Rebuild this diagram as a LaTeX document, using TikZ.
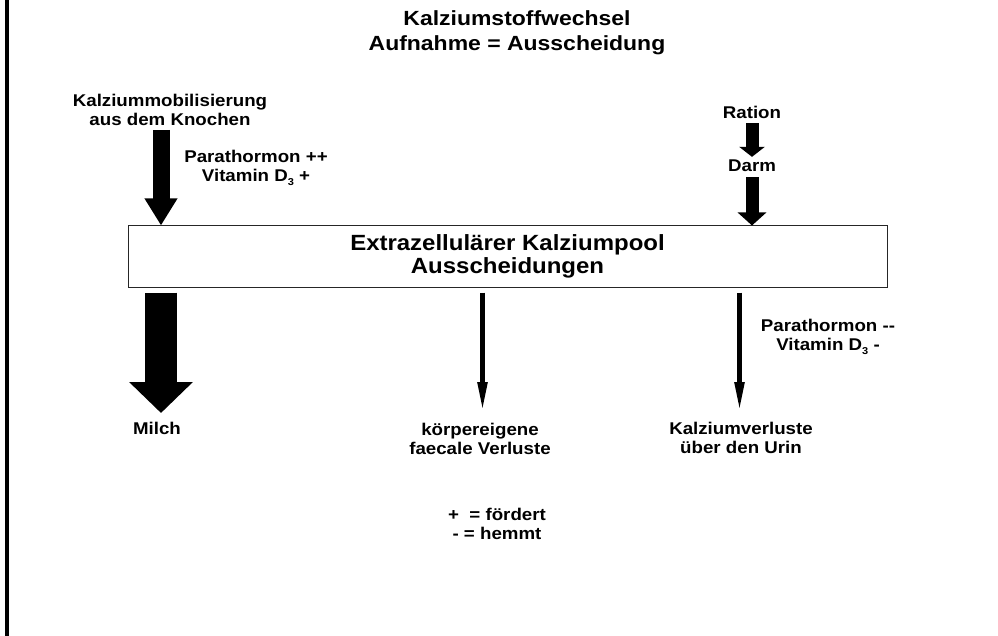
\documentclass[tikz,border=0pt]{standalone}
\usepackage{fontspec}
\setmainfont{Liberation Sans}
\usepackage{graphicx}
\usetikzlibrary{arrows.meta}
\newcommand{\sx}[1]{\scalebox{1.1}[1]{#1}}
\newcommand{\sxt}[1]{\scalebox{1.12}[1]{#1}}
\newcommand{\sxb}[1]{\scalebox{1.09}[1]{#1}}
\newcommand{\subthree}{\raisebox{-0.45ex}{\fontsize{10}{10}\selectfont 3}}
\begin{document}
\begin{tikzpicture}[x=1pt,y=-1pt,
  lbl/.style={font=\bfseries\fontsize{17}{19.5}\selectfont, align=center, inner sep=0pt},
  ttl/.style={font=\bfseries\fontsize{20.5}{24.5}\selectfont, align=center, inner sep=0pt},
  poolbox/.style={draw=black!85, line width=1pt, minimum width=759pt, minimum height=61pt,
    font=\bfseries\fontsize{22}{22.5}\selectfont, align=center, inner sep=0pt},
  fat/.style n args={3}{line width=#1, -{Triangle[width=#2,length=#3]}}
]
\useasboundingbox (0,0) rectangle (998,636);
\fill[white] (0,0) rectangle (998,636);
\fill[black] (4.5,0) rectangle (8.5,636);

\node[ttl] (title) at (517,32.5) {\sxt{Kalziumstoffwechsel}\\\sxt{Aufnahme = Ausscheidung}};
\node[lbl] (mob) at (170,110) {\sx{Kalziummobilisierung}\\\sx{aus dem Knochen}};
\node[lbl] (pthin) at (256,168) {\sx{Parathormon ++}\\\sx{Vitamin D\subthree\ +}};
\node[lbl] (ration) at (752,112) {\sx{Ration}};
\node[lbl] (darm) at (752,166) {\sx{Darm}};
\node[poolbox] (pool) at (507.5,256.5) {\sxb{Extrazellulärer Kalziumpool}\\\sxb{Ausscheidungen}};
\node[lbl] (milch) at (157,428) {\sx{Milch}};
\node[lbl] (faec) at (480,439) {\sx{körpereigene}\\\sx{faecale Verluste}};
\node[lbl] (urin) at (741,438) {\sx{Kalziumverluste}\\\sx{über den Urin}};
\node[lbl] (pthout) at (828,337) {\sx{Parathormon -{}-}\\\sx{Vitamin D\subthree\ -}};
\node[lbl] (legend) at (497,524) {\sx{+\ \ = fördert}\\\sx{- = hemmt}};

\coordinate (kx) at (161,130);
\coordinate (mx) at (161,413);
\coordinate (fx) at (482.5,413);
\coordinate (ux) at (739.5,413);

\draw[fat={17pt}{31pt}{27pt}] (kx) -- (kx |- pool.north);
\draw[fat={13pt}{25pt}{10pt}] ([yshift=-5pt]ration.south) -- ([yshift=3pt]darm.north);
\draw[fat={13pt}{28pt}{13pt}] ([yshift=-5pt]darm.south) -- (darm.south |- pool.north);
\draw[fat={32pt}{62pt}{31pt}] ([yshift=-5pt]pool.south -| mx) -- (mx);
\draw[fat={5pt}{9pt}{31pt}] ([yshift=-5pt]pool.south -| fx) -- (fx);
\draw[fat={5pt}{9pt}{31pt}] ([yshift=-5pt]pool.south -| ux) -- (ux);
\end{tikzpicture}
\end{document}
